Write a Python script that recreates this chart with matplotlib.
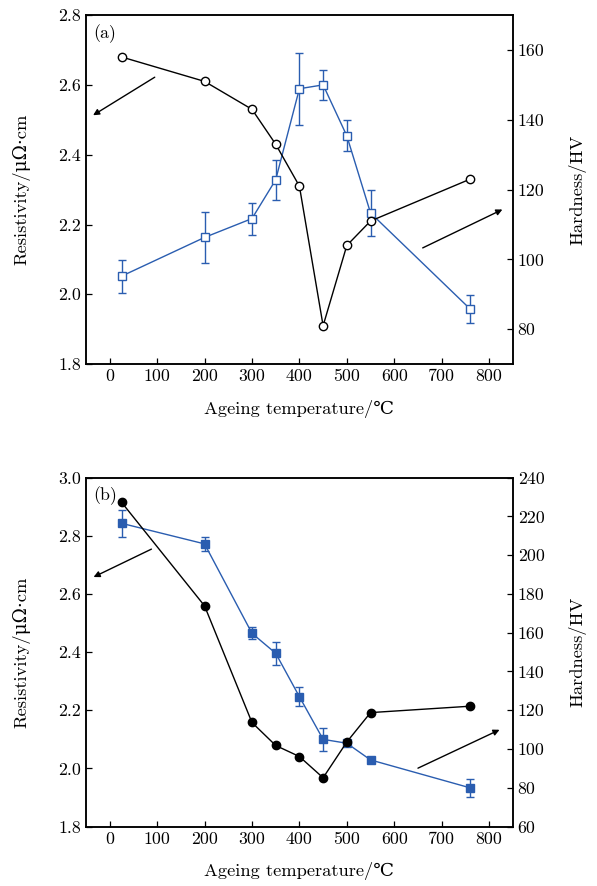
import matplotlib
matplotlib.use("Agg")
import matplotlib.pyplot as plt

plt.rcParams["font.family"] = ["cmr10", "DejaVu Serif", "DejaVu Sans", "Noto Sans CJK SC"]
plt.rcParams["mathtext.fontset"] = "cm"
plt.rcParams["axes.unicode_minus"] = False

BLUE = "#2a5db0"

# panel (a): as-aged state
temp_a = [25, 200, 300, 350, 400, 450, 500, 550, 760]
resist_a = [2.68, 2.61, 2.53, 2.43, 2.31, 1.91, 2.14, 2.21, 2.33]
hard_a = [95.2, 106.3, 111.7, 122.8, 148.9, 150.0, 135.4, 113.3, 85.8]
hard_err_a = [4.7, 7.3, 4.6, 5.7, 10.3, 4.2, 4.4, 6.7, 4.1]

# panel (b)
temp_b = [25, 200, 300, 350, 400, 450, 500, 550, 760]
resist_b = [2.915, 2.559, 2.158, 2.079, 2.041, 1.968, 2.091, 2.192, 2.214]
hard_b = [216.4, 205.8, 159.7, 149.4, 127.0, 105.0, 103.0, 94.4, 80.0]
hard_err_b = [7.0, 3.7, 3.2, 6.0, 5.0, 5.8, 1.0, 1.0, 4.7]

x_ticks = [0, 100, 200, 300, 400, 500, 600, 700, 800]

FS = 12.8


def style_axes(ax, ax2):
    ax.set_xlim(-50, 850)
    ax.set_xticks(x_ticks)
    ax.tick_params(direction="in", length=4, width=0.9, labelsize=FS, top=False)
    ax2.tick_params(direction="in", length=4, width=0.9, labelsize=FS)
    for a in (ax, ax2):
        for sp in a.spines.values():
            sp.set_linewidth(1.1)
    ax.set_xlabel("Ageing temperature/\u2103", fontsize=FS + 0.5, labelpad=11)
    ax.set_ylabel("Resistivity/\u03bc\u03a9\u00b7cm", fontsize=FS + 0.5, labelpad=20)
    ax2.set_ylabel("Hardness/HV", fontsize=FS + 0.5, labelpad=17)


def draw_panel(ax, temp, resist, hard, hard_err, filled, ylim, y2lim, yticks, y2ticks,
               arrow_l, arrow_r, tag):
    ax2 = ax.twinx()
    ax.plot(temp, resist, color="black", lw=1.0, marker="o", ms=6,
            mfc="black" if filled else "white", mec="black", mew=1.0, zorder=3)
    ax2.errorbar(temp, hard, yerr=hard_err, color=BLUE, lw=1.0, marker="s", ms=5.2,
                 mfc=BLUE if filled else "white", mec=BLUE, mew=1.0,
                 ecolor=BLUE, elinewidth=1.0, capsize=3, capthick=1.0, zorder=3)
    ax.set_ylim(*ylim)
    ax.set_yticks(yticks)
    ax2.set_ylim(*y2lim)
    ax2.set_yticks(y2ticks)
    ax.set_zorder(ax2.get_zorder() + 1)
    ax.patch.set_visible(False)
    for (x0, y0), (x1, y1) in (arrow_l, arrow_r):
        ax.annotate("", xy=(x1, y1), xytext=(x0, y0),
                    arrowprops=dict(arrowstyle="-|>", color="black", lw=1.0,
                                    mutation_scale=9, shrinkA=0, shrinkB=0))
    ax.text(0.018, 0.975, tag, transform=ax.transAxes, ha="left", va="top", fontsize=FS)
    style_axes(ax, ax2)
    return ax2


fig = plt.figure(figsize=(5.97, 8.86), dpi=100)
ax_a = fig.add_axes([0.144, 0.589, 0.715, 0.394])
ax_b = fig.add_axes([0.144, 0.067, 0.715, 0.394])

draw_panel(ax_a, temp_a, resist_a, hard_a, hard_err_a, False,
           (1.8, 2.8), (70, 170), [1.8, 2.0, 2.2, 2.4, 2.6, 2.8], [80, 100, 120, 140, 160],
           ((95, 2.622), (-35, 2.513)), ((660, 2.133), (828, 2.243)), "(a)")
draw_panel(ax_b, temp_b, resist_b, hard_b, hard_err_b, True,
           (1.8, 3.0), (60, 240), [1.8, 2.0, 2.2, 2.4, 2.6, 2.8, 3.0],
           [60, 80, 100, 120, 140, 160, 180, 200, 220, 240],
           ((88, 2.754), (-34, 2.658)), ((650, 2.001), (822, 2.133)), "(b)")

fig.savefig("out.png", dpi=100)
